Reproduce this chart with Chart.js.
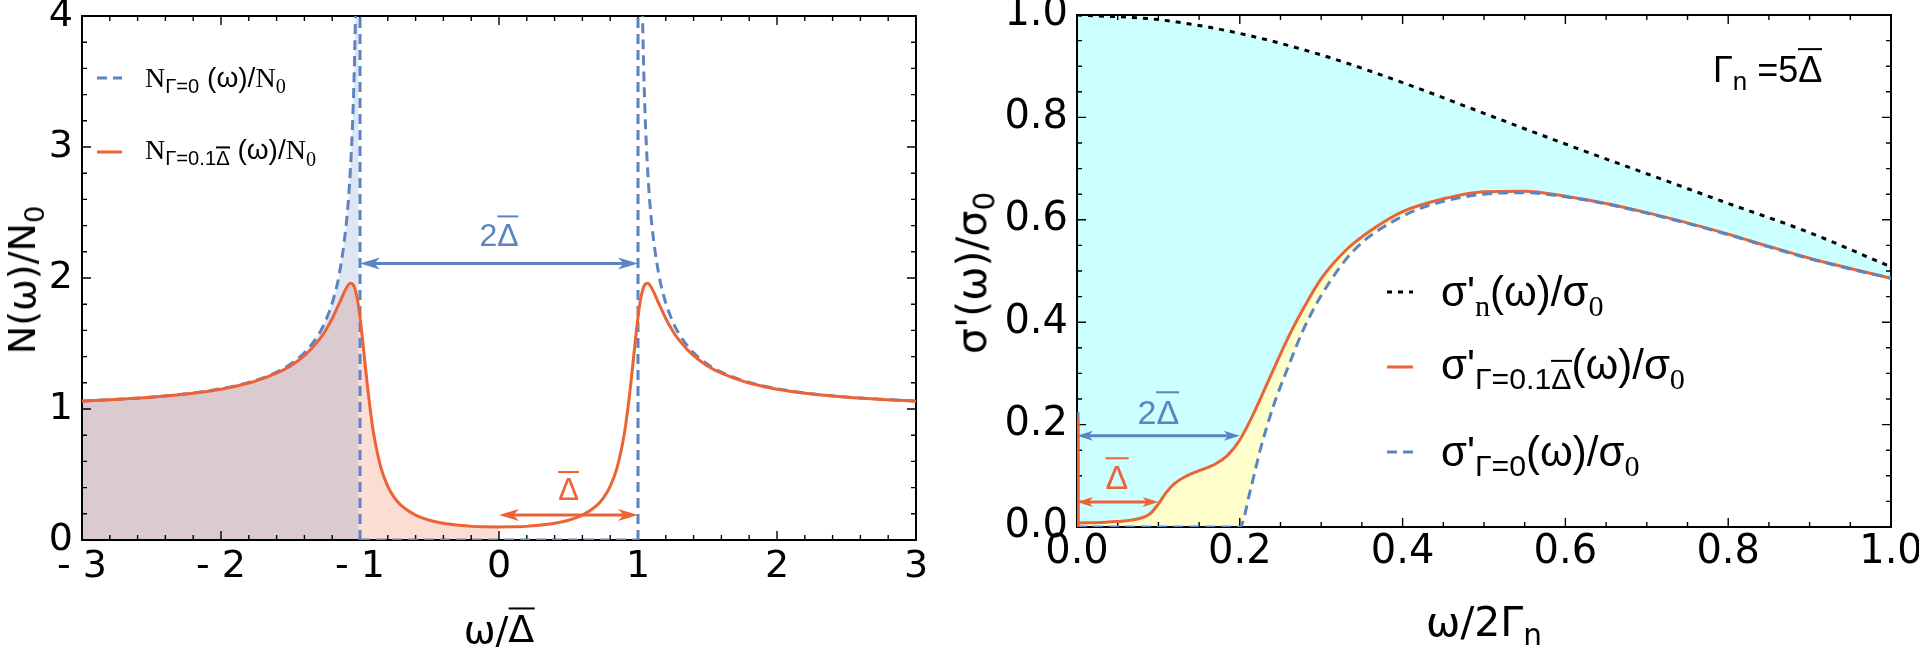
<!DOCTYPE html>
<html>
<head>
<meta charset="utf-8">
<script src="https://cdn.jsdelivr.net/npm/chart.js@4.4.0/dist/chart.umd.min.js"></script>
<style>
body{margin:0;width:1919px;height:650px;overflow:hidden;background:#fff;position:relative;font-family:"Liberation Sans",Arial,sans-serif}
canvas{position:absolute;top:0}
#left{left:0}
#right{left:960px}
.t{position:absolute;white-space:nowrap;line-height:1;color:#000}
.c{transform:translate(-50%,-50%)}
.dv{font-family:"DejaVu Sans",sans-serif}
.serif{font-family:"Liberation Serif","Times New Roman",serif}
sub{font-size:0.72em;vertical-align:-0.32em;line-height:0}
.ov{display:inline-block;border-top:2px solid currentColor;line-height:0.78em;padding-top:0.16em}
.rot{transform:translate(-50%,-50%) rotate(-90deg)}
</style>
</head>
<body>
<canvas id="left" width="960" height="650"></canvas>
<canvas id="right" width="959" height="650"></canvas>

<div class="t rot dv" style="left:22px;top:280px;font-size:38px">N(ω)/N<sub>0</sub></div>
<div class="t c dv" style="left:499px;top:628px;font-size:38px">ω/<span class="ov">Δ</span></div>
<div class="t" style="left:145px;top:78px;font-size:28px;transform:translateY(-50%)"><span class="serif">N</span><sub>Γ=0</sub>&nbsp;(ω)/<span class="serif">N<sub>0</sub></span></div>
<div class="t" style="left:145px;top:152px;font-size:28px;transform:translateY(-50%)"><span class="serif">N</span><sub>Γ=0.1<span class="ov">Δ</span></sub>&nbsp;(ω)/<span class="serif">N<sub>0</sub></span></div>

<div class="t rot dv" style="left:972px;top:273px;font-size:41px">σ'(ω)/σ<sub>0</sub></div>
<div class="t c dv" style="left:1484px;top:622px;font-size:41px">ω/2Γ<sub>n</sub></div>
<div class="t" style="left:1713px;top:68px;font-size:36px;transform:translateY(-50%)">Γ<sub>n</sub> =5<span class="ov">Δ</span></div>
<div class="t" style="left:1441px;top:292px;font-size:42px;transform:translateY(-50%)">σ'<sub class="serif">n</sub>(ω)/σ<sub class="serif">0</sub></div>
<div class="t" style="left:1441px;top:367px;font-size:42px;transform:translateY(-50%)">σ'<sub>Γ=0.1<span class="ov">Δ</span></sub>(ω)/σ<sub class="serif">0</sub></div>
<div class="t" style="left:1441px;top:452px;font-size:42px;transform:translateY(-50%)">σ'<sub>Γ=0</sub>(ω)/σ<sub class="serif">0</sub></div>

<div id="labL1" class="t c" style="font-size:32px;color:#5B84C2">2<span class="ov">Δ</span></div>
<div id="labL2" class="t c" style="font-size:31px;color:#EC6336">&nbsp;<span class="ov">Δ</span>&nbsp;</div>
<div id="labR1" class="t c" style="font-size:34px;color:#5B84C2">2<span class="ov">Δ</span></div>
<div id="labR2" class="t c" style="font-size:34px;color:#EC6336"><span class="ov">Δ</span></div>

<script>
// ---- left panel: N(w)/N0 versus w/Delta ----
var dosW = [-3, -2.75, -2.5, -2.25, -2, -1.8, -1.7, -1.6, -1.5, -1.4, -1.3, -1.25, -1.2, -1.15, -1.1, -1.07, -1.05, -1.02, -1, -0.97, -0.95, -0.92, -0.9, -0.85, -0.8, -0.75, -0.7, -0.6, -0.5, -0.4, -0.3, -0.2, -0.1,
  0, 0.1, 0.2, 0.3, 0.4, 0.5, 0.6, 0.7, 0.75, 0.8, 0.85, 0.9, 0.92, 0.95, 0.97, 1, 1.02, 1.05, 1.07, 1.1, 1.15, 1.2, 1.25, 1.3, 1.4, 1.5, 1.6, 1.7, 1.8, 2, 2.25, 2.5, 2.75, 3];
var dosGamma = [1.06, 1.073, 1.09, 1.114, 1.15, 1.198, 1.232, 1.273, 1.329, 1.407, 1.52, 1.596, 1.691, 1.804, 1.92, 1.959, 1.95, 1.845, 1.70, 1.413, 1.21, 0.946, 0.802, 0.555, 0.41, 0.32, 0.26, 0.19, 0.151, 0.128, 0.114, 0.104, 0.101,
  0.1, 0.101, 0.104, 0.114, 0.128, 0.151, 0.19, 0.26, 0.32, 0.41, 0.555, 0.802, 0.946, 1.21, 1.413, 1.70, 1.845, 1.95, 1.959, 1.92, 1.804, 1.691, 1.596, 1.52, 1.407, 1.329, 1.273, 1.232, 1.198, 1.15, 1.114, 1.09, 1.073, 1.06];
var bcsLeftW = [-3, -2.75, -2.5, -2.25, -2, -1.8, -1.6, -1.5, -1.4, -1.3, -1.25, -1.2, -1.15, -1.1, -1.08, -1.06, -1.05, -1.04, -1.03, -1.02, -1.01];
var bcsLeftN = [1.061, 1.074, 1.091, 1.116, 1.155, 1.203, 1.281, 1.342, 1.429, 1.565, 1.667, 1.809, 2.025, 2.4, 2.648, 3.015, 3.28, 3.64, 4.17, 5.07, 7.12];
var bcsRightW = [1.01, 1.02, 1.03, 1.04, 1.05, 1.06, 1.08, 1.1, 1.15, 1.2, 1.25, 1.3, 1.4, 1.5, 1.6, 1.8, 2, 2.25, 2.5, 2.75, 3];
var bcsRightN = [7.12, 5.07, 4.17, 3.64, 3.28, 3.015, 2.648, 2.4, 2.025, 1.809, 1.667, 1.565, 1.429, 1.342, 1.281, 1.203, 1.155, 1.116, 1.091, 1.074, 1.061];
var gapEdges = [-1, 1];
var xTicksL = [-3, -2, -1, 0, 1, 2, 3];
var yTicksL = [0, 1, 2, 3, 4];

// ---- right panel: sigma'(w)/sigma0 versus w/2Gamma_n ----
var sigW = [0, 0.03, 0.06, 0.08, 0.09, 0.1, 0.11, 0.12, 0.135, 0.15, 0.17, 0.185, 0.2, 0.215, 0.235, 0.26, 0.28, 0.3, 0.33, 0.36, 0.4, 0.45, 0.5, 0.55, 0.6, 0.65, 0.7, 0.75, 0.8, 0.85, 0.9, 0.95, 1];
var sigGamma = [0.008, 0.009, 0.012, 0.018, 0.026, 0.045, 0.068, 0.085, 0.1, 0.11, 0.123, 0.14, 0.17, 0.215, 0.285, 0.372, 0.432, 0.485, 0.54, 0.578, 0.616, 0.641, 0.655, 0.656, 0.646, 0.632, 0.614, 0.594, 0.572, 0.548, 0.525, 0.505, 0.486];
var sigBcsW = [0, 0.2, 0.213, 0.225, 0.241, 0.258, 0.278, 0.3, 0.34, 0.4, 0.45, 0.5, 0.55, 0.6, 0.65, 0.7, 0.75, 0.8, 0.85, 0.9, 0.95, 1];
var sigBcs = [0, 0, 0.072, 0.15, 0.235, 0.307, 0.385, 0.452, 0.54, 0.607, 0.636, 0.65, 0.653, 0.645, 0.631, 0.613, 0.593, 0.571, 0.547, 0.524, 0.504, 0.486];
var sigNW = [0, 0.1, 0.2, 0.3, 0.4, 0.5, 0.6, 0.7, 0.8, 0.9, 1];
var sigN = [1, 0.991, 0.964, 0.922, 0.868, 0.808, 0.748, 0.69, 0.632, 0.575, 0.508];
var spikeGamma = 0.213;  // w = 0 weight, Gamma = 0.1
var spikeBcs = 0.225;    // w = 0 weight, Gamma = 0
var xTicksR = [0, 0.2, 0.4, 0.6, 0.8, 1];
var yTicksR = [0, 0.2, 0.4, 0.6, 0.8, 1];

var ORANGE = '#EC6336', BLUE = '#5B84C2';

function pts(xs, ys) {
  return xs.map(function(x, i){ return {x: x, y: ys[i]}; });
}

// frame with inward ticks on all four sides
var frame = {
  id: 'frame',
  beforeDatasetsDraw: function(chart, args, o) {
    var ctx = chart.ctx, a = chart.chartArea, sx = chart.scales.x, sy = chart.scales.y;
    ctx.save();
    ctx.strokeStyle = '#000';
    ctx.lineWidth = 1.4;
    ctx.beginPath();
    var n = Math.round((sx.max - sx.min) / o.xStep);
    for (var i = 0; i <= n; i++) {
      var px = sx.getPixelForValue(sx.min + i * o.xStep);
      var len = (i % o.xEvery == 0) ? 9 : 5;
      ctx.moveTo(px, a.bottom); ctx.lineTo(px, a.bottom - len);
      ctx.moveTo(px, a.top); ctx.lineTo(px, a.top + len);
    }
    n = Math.round((sy.max - sy.min) / o.yStep);
    for (var j = 0; j <= n; j++) {
      var py = sy.getPixelForValue(sy.min + j * o.yStep);
      var l2 = (j % o.yEvery == 0) ? 9 : 5;
      ctx.moveTo(a.left, py); ctx.lineTo(a.left + l2, py);
      ctx.moveTo(a.right, py); ctx.lineTo(a.right - l2, py);
    }
    ctx.stroke();
    ctx.lineWidth = 2;
    ctx.strokeRect(a.left, a.top, a.width, a.height);
    ctx.restore();
  }
};

function arrowHead(ctx, tipX, y, dir, L, W) {
  ctx.beginPath();
  ctx.moveTo(tipX, y);
  ctx.lineTo(tipX - dir * L, y - W);
  ctx.lineTo(tipX - dir * L * 0.72, y);
  ctx.lineTo(tipX - dir * L, y + W);
  ctx.closePath();
  ctx.fill();
}

// double arrows, legend samples and placement of the html labels
var marks = {
  id: 'marks',
  afterDatasetsDraw: function(chart, args, o) {
    var ctx = chart.ctx, sx = chart.scales.x, sy = chart.scales.y;
    ctx.save();
    o.arrows.forEach(function(ar) {
      var x0 = sx.getPixelForValue(ar.x0), x1 = sx.getPixelForValue(ar.x1), y = sy.getPixelForValue(ar.y);
      ctx.strokeStyle = ar.color; ctx.fillStyle = ar.color; ctx.lineWidth = 3;
      ctx.beginPath(); ctx.moveTo(x0 + ar.L * 0.7, y); ctx.lineTo(x1 - ar.L * 0.7, y); ctx.stroke();
      arrowHead(ctx, x0, y, -1, ar.L, ar.W);
      arrowHead(ctx, x1, y, 1, ar.L, ar.W);
    });
    o.legend.forEach(function(lg) {
      ctx.strokeStyle = lg.color; ctx.lineWidth = 3;
      ctx.setLineDash(lg.dash);
      ctx.beginPath(); ctx.moveTo(lg.x0, lg.y); ctx.lineTo(lg.x1, lg.y); ctx.stroke();
    });
    ctx.restore();
    o.labels.forEach(function(lb) {
      var el = document.getElementById(lb.id);
      el.style.left = (o.offset + sx.getPixelForValue(lb.x)) + 'px';
      el.style.top = sy.getPixelForValue(lb.y) + 'px';
    });
  }
};

function fixedScale(size, isX, ticks, fmt, fontSize, pad) {
  return {
    type: 'linear',
    min: ticks[0], max: ticks[ticks.length - 1],
    grid: {display: false, drawTicks: false},
    border: {display: false},
    afterBuildTicks: function(s) { s.ticks = ticks.map(function(v){ return {value: v}; }); },
    afterFit: function(s) {
      if (isX) s.height = size; else s.width = size;
      s.paddingLeft = 0; s.paddingRight = 0; s.paddingTop = 0; s.paddingBottom = 0;
    },
    ticks: {
      color: '#000', padding: pad,
      font: {family: 'DejaVu Sans', size: fontSize},
      maxRotation: 0, autoSkip: false,
      callback: fmt
    }
  };
}

Chart.defaults.animation = false;

new Chart(document.getElementById('left'), {
  type: 'scatter',
  data: {
    datasets: [
      {data: pts(dosW, dosGamma), borderColor: ORANGE, borderWidth: 3, order: 0},
      {data: pts(dosW, dosGamma).filter(function(p){ return p.x <= 0; }), borderWidth: 0, borderColor: 'rgba(0,0,0,0)',
        fill: 'origin', backgroundColor: 'rgba(236,99,54,0.22)', order: 6},
      {data: pts(bcsLeftW, bcsLeftN), borderColor: BLUE, borderWidth: 3, borderDash: [10, 6],
        fill: 'origin', backgroundColor: 'rgba(91,132,194,0.2)', order: 2},
      {data: pts(bcsRightW, bcsRightN), borderColor: BLUE, borderWidth: 3, borderDash: [10, 6], order: 3},
      {data: [{x: gapEdges[0], y: 0}, {x: gapEdges[0], y: 4}], borderColor: BLUE, borderWidth: 3, borderDash: [10, 6], order: 4, cubicInterpolationMode: 'default', tension: 0},
      {data: [{x: gapEdges[1], y: 0}, {x: gapEdges[1], y: 4}], borderColor: BLUE, borderWidth: 3, borderDash: [10, 6], order: 4, cubicInterpolationMode: 'default', tension: 0},
      {data: [{x: gapEdges[0], y: 0}, {x: gapEdges[1], y: 0}], borderColor: BLUE, borderWidth: 3, borderDash: [10, 6], order: 5, cubicInterpolationMode: 'default', tension: 0}
    ]
  },
  options: {
    responsive: false,
    datasets: {scatter: {showLine: true, pointRadius: 0, cubicInterpolationMode: 'monotone', fill: false}},
    layout: {padding: {left: 0, right: 44, top: 16, bottom: 0}},
    scales: {
      x: fixedScale(110, true, xTicksL, function(v){ return v < 0 ? '- ' + (-v) : String(v); }, 38, 4),
      y: fixedScale(82, false, yTicksL, function(v){ return String(v); }, 38, 9)
    },
    plugins: {
      legend: {display: false}, tooltip: {enabled: false},
      filler: {drawTime: 'beforeDatasetsDraw'},
      frame: {xStep: 0.2, xEvery: 5, yStep: 0.2, yEvery: 5},
      marks: {
        offset: 0,
        arrows: [
          {x0: -1, x1: 1, y: 2.11, color: BLUE, L: 20, W: 6},
          {x0: 0, x1: 1, y: 0.19, color: ORANGE, L: 20, W: 6}
        ],
        legend: [
          {x0: 97, x1: 122, y: 78, color: BLUE, dash: [10, 6]},
          {x0: 97, x1: 122, y: 152, color: ORANGE, dash: []}
        ],
        labels: [
          {id: 'labL1', x: 0, y: 2.34},
          {id: 'labL2', x: 0.5, y: 0.40}
        ]
      }
    }
  },
  plugins: [frame, marks]
});

new Chart(document.getElementById('right'), {
  type: 'scatter',
  data: {
    datasets: [
      {data: pts(sigNW, sigN), borderColor: '#000', borderWidth: 3, borderDash: [5, 6],
        fill: {target: 1, above: 'rgb(204,255,255)', below: 'rgb(204,255,255)'}, order: 3},
      {data: pts(sigW, sigGamma), borderColor: ORANGE, borderWidth: 3,
        fill: {target: 2, above: 'rgb(255,255,204)', below: 'rgb(255,255,204)'}, order: 1},
      {data: pts(sigBcsW, sigBcs), borderColor: BLUE, borderWidth: 3, borderDash: [10, 6], order: 0},
      {data: [{x: 0, y: 0}, {x: 0, y: spikeBcs}], borderColor: BLUE, borderWidth: 5, order: 5, cubicInterpolationMode: 'default', tension: 0},
      {data: [{x: 0, y: 0}, {x: 0, y: spikeGamma}], borderColor: ORANGE, borderWidth: 5, order: -1, cubicInterpolationMode: 'default', tension: 0}
    ]
  },
  options: {
    responsive: false,
    datasets: {scatter: {showLine: true, pointRadius: 0, cubicInterpolationMode: 'monotone', fill: false}},
    layout: {padding: {left: 0, right: 28, top: 15, bottom: 0}},
    scales: {
      x: fixedScale(123, true, xTicksR, function(v){ return v.toFixed(1); }, 40, 2),
      y: fixedScale(117, false, yTicksR, function(v){ return v.toFixed(1); }, 40, 9)
    },
    plugins: {
      legend: {display: false}, tooltip: {enabled: false},
      filler: {drawTime: 'beforeDatasetsDraw'},
      frame: {xStep: 0.05, xEvery: 4, yStep: 0.05, yEvery: 4},
      marks: {
        offset: 960,
        arrows: [
          {x0: 0, x1: 0.2, y: 0.178, color: BLUE, L: 16, W: 5},
          {x0: 0, x1: 0.1, y: 0.049, color: ORANGE, L: 16, W: 5}
        ],
        legend: [
          {x0: 427, x1: 453, y: 292, color: '#000', dash: [5, 6]},
          {x0: 427, x1: 453, y: 367, color: ORANGE, dash: []},
          {x0: 427, x1: 453, y: 452, color: BLUE, dash: [10, 6]}
        ],
        labels: [
          {id: 'labR1', x: 0.1, y: 0.228},
          {id: 'labR2', x: 0.049, y: 0.10}
        ]
      }
    }
  },
  plugins: [frame, marks]
});
</script>
</body>
</html>
